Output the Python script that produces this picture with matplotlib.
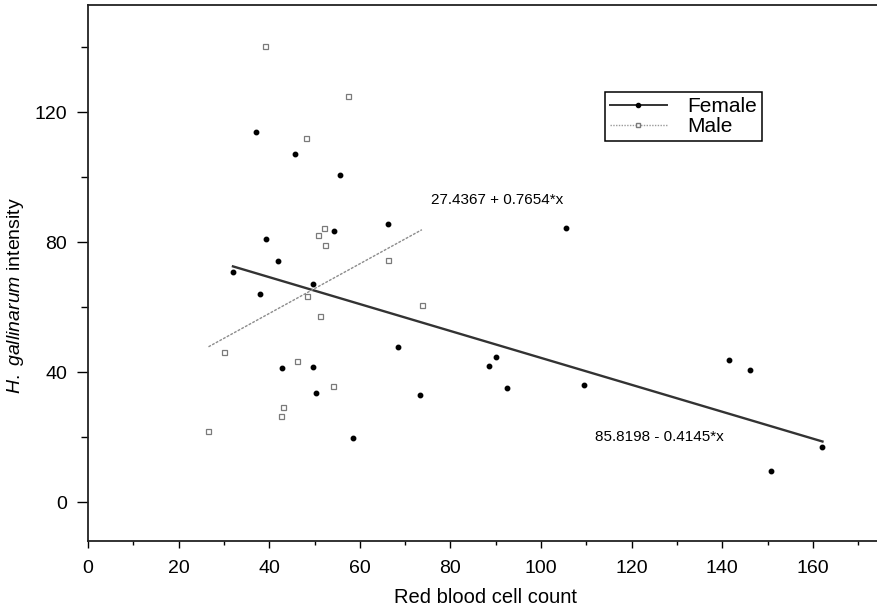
import matplotlib.pyplot as plt
import numpy as np

plt.rcParams['font.family'] = ['Liberation Sans', 'DejaVu Sans']
plt.rcParams['mathtext.fontset'] = 'custom'
plt.rcParams['mathtext.rm'] = 'Liberation Sans'
plt.rcParams['mathtext.it'] = 'Liberation Sans:italic'

# Red blood cell count vs H. gallinarum intensity
female_rbc = [37.0, 45.7, 55.7, 66.2, 54.3, 39.4, 42.0, 32.0, 38.0, 49.6,
              105.5, 68.4, 42.8, 49.7, 50.3, 73.2, 58.6, 88.6, 90.0, 92.4,
              109.5, 141.4, 146.0, 162.1, 150.7]
female_int = [113.8, 107.2, 100.6, 85.6, 83.4, 81.0, 74.1, 70.8, 64.1, 67.1,
              84.5, 47.8, 41.4, 41.5, 33.6, 32.9, 19.6, 41.8, 44.8, 35.1,
              36.0, 43.6, 40.6, 16.8, 9.6]

male_rbc = [39.0, 57.3, 48.1, 52.0, 50.8, 52.3, 66.2, 48.3, 73.7, 51.2,
            30.0, 46.1, 54.1, 43.1, 42.6, 26.6]
male_int = [140.4, 124.9, 112.2, 84.4, 82.3, 79.2, 74.5, 63.5, 60.6, 57.3,
            46.1, 43.4, 35.7, 29.4, 26.5, 22.0]

# fitted lines (intercept, slope)
female_fit = (85.8198, -0.4145)
male_fit = (27.4367, 0.7654)

fig = plt.figure(figsize=(8.77, 6.11), dpi=100)
ax = fig.add_axes([0.1003, 0.1146, 0.930, 0.877])

xf = np.array([min(female_rbc), max(female_rbc)])
xm = np.array([min(male_rbc), max(male_rbc)])

ax.plot(xf, female_fit[0] + female_fit[1] * xf, color='#333333', lw=1.7,
        zorder=2)
ax.plot(xm, male_fit[0] + male_fit[1] * xm, color='#8c8c8c', lw=1.0,
        linestyle=(0, (2, 1)), zorder=2)

ax.plot(female_rbc, female_int, 'o', color='black', ms=3.2, zorder=3)
ax.plot(male_rbc, male_int, 's', mfc='white', mec='#7a7a7a', ms=3.6,
        mew=0.9, zorder=3)

# legend handles: line with marker in the middle
h_f, = ax.plot([], [], color='#333333', lw=1.4, marker='o', ms=3, mfc='black',
               mec='black')
h_m, = ax.plot([], [], color='#9a9a9a', lw=1.0, linestyle=(0, (1, 1)),
               marker='s', ms=3.5, mfc='white', mec='#7a7a7a')
leg = ax.legend([h_f, h_m], ['Female', 'Male'], loc='upper left',
                bbox_to_anchor=(0.634, 0.838), fontsize=15, frameon=True,
                fancybox=False, edgecolor='black', framealpha=1,
                handlelength=2.7, handletextpad=1.0, labelspacing=0.05,
                borderpad=0.25, borderaxespad=0, numpoints=1)
leg.get_frame().set_linewidth(1.1)

ax.text(75.8, 93.1, '27.4367 + 0.7654*x', fontsize=11, va='center',
        ha='left')
ax.text(111.9, 20.0, '85.8198 - 0.4145*x', fontsize=11, va='center',
        ha='left')

ax.set_xlim(0, 180)
ax.set_ylim(-12, 153)
ax.set_xticks([0, 20, 40, 60, 80, 100, 120, 140, 160])
ax.set_xticks(np.arange(10, 180, 20), minor=True)
ax.set_yticks([0, 40, 80, 120])
ax.set_yticks([20, 60, 100, 140], minor=True)

ax.tick_params(axis='x', which='major', direction='out', length=5, width=1,
               pad=9, labelsize=14)
ax.tick_params(axis='x', which='minor', direction='out', length=3, width=1)
ax.tick_params(axis='y', which='major', direction='out', length=8, width=1,
               pad=7, labelsize=14)
ax.tick_params(axis='y', which='minor', direction='out', length=5, width=1)

for s in ax.spines.values():
    s.set_linewidth(1.3)
    s.set_color('#222222')

ax.set_xlabel('Red blood cell count', fontsize=14.5)
ax.xaxis.set_label_coords(0.488, -0.088)
ax.set_ylabel(r'$\mathit{H.\ gallinarum}$ intensity', fontsize=14)
ax.yaxis.set_label_coords(-0.076, 0.459)

fig.savefig('out.png', dpi=100, facecolor='white')
